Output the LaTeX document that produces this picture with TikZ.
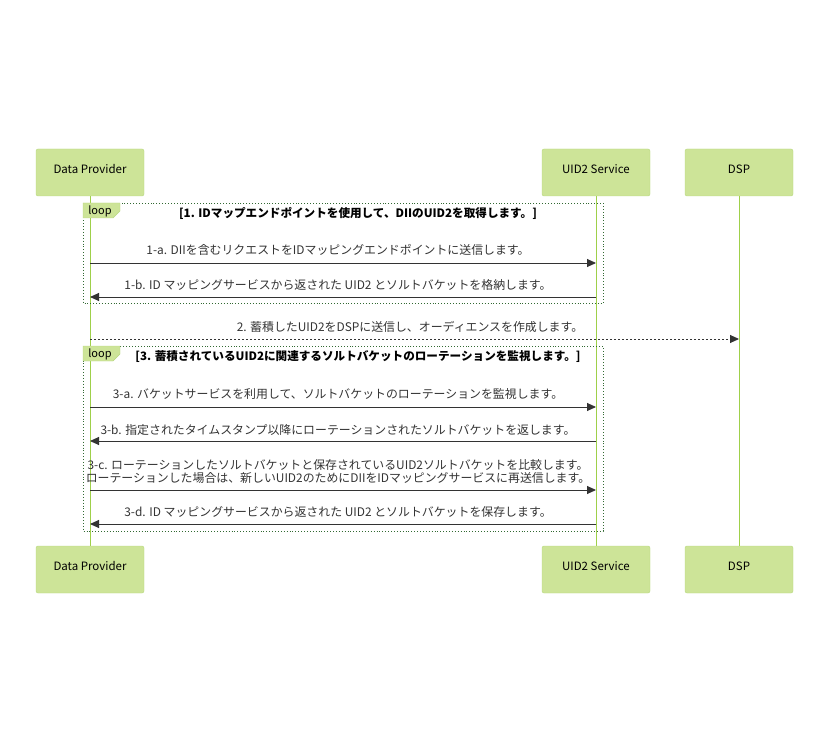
\documentclass[tikz,border=0pt]{standalone}
\usepackage{fontspec}
\setmainfont{Noto Sans CJK JP}
\usetikzlibrary{arrows.meta}
\definecolor{actfill}{HTML}{CDE498}
\definecolor{actline}{HTML}{B6D77F}
\definecolor{life}{HTML}{9FD04A}
\definecolor{loopline}{HTML}{326932}
\definecolor{txt}{HTML}{333333}
\tikzset{
  actor/.style={draw=actline, fill=actfill, rounded corners=2pt, minimum width=108pt, minimum height=47pt, inner sep=0pt},
  actlab/.style={font=\fontsize{11.5}{13}\selectfont, text=black, inner sep=0pt},
  lifeline/.style={draw=life, line width=1pt},
  msg/.style={draw=txt, line width=0.9pt, -{Triangle[length=9pt,width=8pt]}},
  dmsg/.style={msg, dash pattern=on 2pt off 2pt},
  mtext/.style={font=\fontsize{11.9}{13.5}\selectfont, text=txt, inner sep=0pt, align=center},
  loopbox/.style={draw=loopline, dotted, line width=0.9pt},
  looptitle/.style={font=\fontsize{11.6}{13}\selectfont\bfseries, text=black, inner sep=0pt},
  looplab/.style={font=\fontsize{11}{12}\selectfont, text=black, inner sep=0pt},
  looptag/.style={draw=actline, fill=actfill},
}
\begin{document}
\begin{tikzpicture}[x=1pt,y=-1pt]
\useasboundingbox (0,0) rectangle (830,743);
% lifelines
\coordinate (dpT) at (90,196); \coordinate (dpB) at (90,546);
\coordinate (usT) at (596,196); \coordinate (usB) at (596,546);
\coordinate (dsT) at (739,196); \coordinate (dsB) at (739,546);
\draw[lifeline] (dpT) -- (dpB);
\draw[lifeline] (usT) -- (usB);
\draw[lifeline] (dsT) -- (dsB);
% actors
\node[actor] (dp1) at (90,172.5) {};
\node[actor] (us1) at (596,172.5) {};
\node[actor] (ds1) at (739,172.5) {};
\node[actor] (dp2) at (90,569.5) {};
\node[actor] (us2) at (596,569.5) {};
\node[actor] (ds2) at (739,569.5) {};
\node[actlab] (dp1t) at (90,169) {Data Provider};
\node[actlab] (us1t) at (596,169) {UID2 Service};
\node[actlab] (ds1t) at (739,169) {DSP};
\node[actlab] (dp2t) at (90,566) {Data Provider};
\node[actlab] (us2t) at (596,566) {UID2 Service};
\node[actlab] (ds2t) at (739,566) {DSP};
% loop 1
\draw[loopbox] (83,203) rectangle (603,303);
\draw[looptag] (83,203) -- (120,203) -- (120,211) -- (113,218) -- (83,218) -- cycle;
\node[looplab] (lp1) at (100,211.5) {loop};
\node[looptitle] (t1) at (358,213.5) {[1. IDマップエンドポイントを使用して、DIIのUID2を取得します。]};
% message coordinates
\coordinate (a1s) at (90,263); \coordinate (a1e) at (596,263);
\coordinate (b1s) at (596,297); \coordinate (b1e) at (90,297);
\coordinate (m2s) at (90,339); \coordinate (m2e) at (739,339);
\coordinate (a3s) at (90,407); \coordinate (a3e) at (596,407);
\coordinate (b3s) at (596,441); \coordinate (b3e) at (90,441);
\coordinate (c3s) at (90,490); \coordinate (c3e) at (596,490);
\coordinate (d3s) at (596,524); \coordinate (d3e) at (90,524);
\node[mtext] (l1a) at (338,249.5) {1-a. DIIを含むリクエストをIDマッピングエンドポイントに送信します。};
\draw[msg] (a1s) -- (a1e);
\node[mtext] (l1b) at (338,285) {1-b. ID マッピングサービスから返された UID2 とソルトバケットを格納します。};
\draw[msg] (b1s) -- (b1e);
\node[mtext] (l2) at (410,327) {2. 蓄積したUID2をDSPに送信し、オーディエンスを作成します。};
\draw[dmsg] (m2s) -- (m2e);
% loop 2
\draw[loopbox] (83,346) rectangle (603,531);
\draw[looptag] (83,346) -- (120,346) -- (120,354) -- (113,361) -- (83,361) -- cycle;
\node[looplab] (lp2) at (100,354.5) {loop};
\node[looptitle] (t2) at (358,356.5) {[3. 蓄積されているUID2に関連するソルトバケットのローテーションを監視します。]};
\node[mtext] (l3a) at (338,394) {3-a. バケットサービスを利用して、ソルトバケットのローテーションを監視します。};
\draw[msg] (a3s) -- (a3e);
\node[mtext] (l3b) at (338,430) {3-b. 指定されたタイムスタンプ以降にローテーションされたソルトバケットを返します。};
\draw[msg] (b3s) -- (b3e);
\node[mtext] (l3c) at (338,471.5) {3-c. ローテーションしたソルトバケットと保存されているUID2ソルトバケットを比較します。\\ローテーションした場合は、新しいUID2のためにDIIをIDマッピングサービスに再送信します。};
\draw[msg] (c3s) -- (c3e);
\node[mtext] (l3d) at (338,512) {3-d. ID マッピングサービスから返された UID2 とソルトバケットを保存します。};
\draw[msg] (d3s) -- (d3e);
\end{tikzpicture}
\end{document}
